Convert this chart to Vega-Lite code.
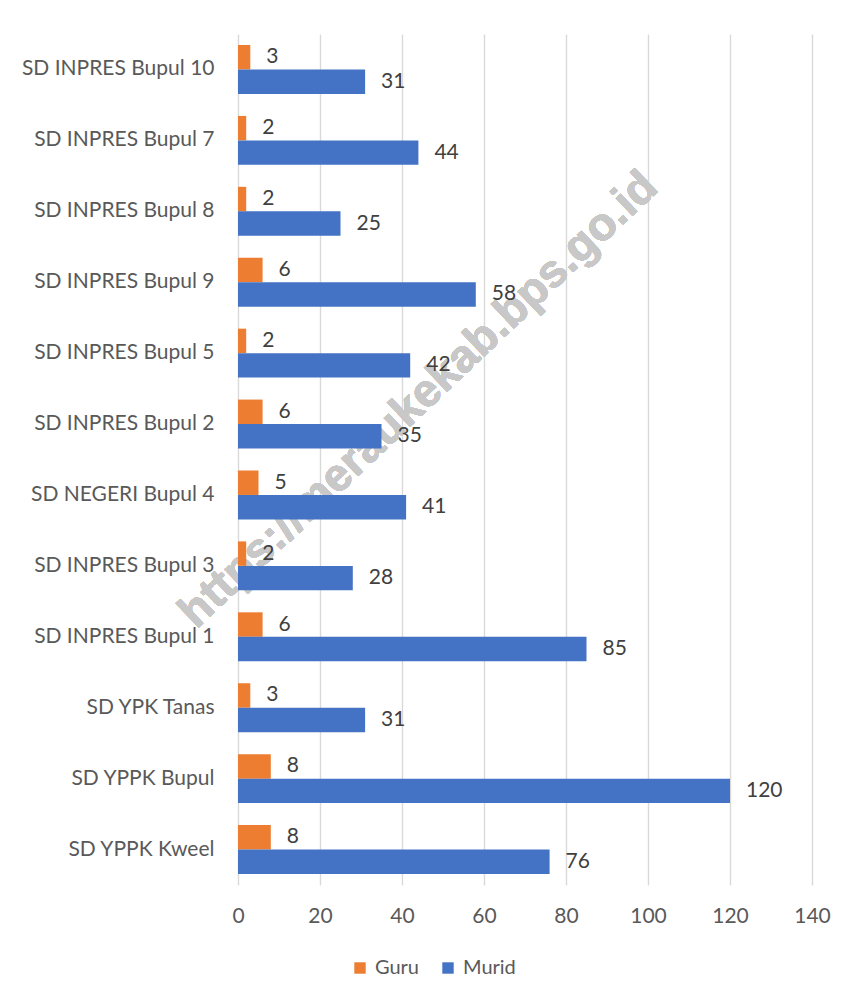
{
  "$schema": "https://vega.github.io/schema/vega-lite/v6.json",
  "autosize": "none",
  "width": 574,
  "height": 851,
  "padding": {"left": 238, "top": 34, "right": 47, "bottom": 120},
  "background": "white",
  "config": {
    "font": "Lato",
    "view": {"stroke": null}
  },
  "data": {
    "values": [
      {"school": "SD INPRES Bupul 10", "series": "Guru", "value": 3},
      {"school": "SD INPRES Bupul 10", "series": "Murid", "value": 31},
      {"school": "SD INPRES Bupul 7", "series": "Guru", "value": 2},
      {"school": "SD INPRES Bupul 7", "series": "Murid", "value": 44},
      {"school": "SD INPRES Bupul 8", "series": "Guru", "value": 2},
      {"school": "SD INPRES Bupul 8", "series": "Murid", "value": 25},
      {"school": "SD INPRES Bupul 9", "series": "Guru", "value": 6},
      {"school": "SD INPRES Bupul 9", "series": "Murid", "value": 58},
      {"school": "SD INPRES Bupul 5", "series": "Guru", "value": 2},
      {"school": "SD INPRES Bupul 5", "series": "Murid", "value": 42},
      {"school": "SD INPRES Bupul 2", "series": "Guru", "value": 6},
      {"school": "SD INPRES Bupul 2", "series": "Murid", "value": 35},
      {"school": "SD NEGERI Bupul 4", "series": "Guru", "value": 5},
      {"school": "SD NEGERI Bupul 4", "series": "Murid", "value": 41},
      {"school": "SD INPRES Bupul 3", "series": "Guru", "value": 2},
      {"school": "SD INPRES Bupul 3", "series": "Murid", "value": 28},
      {"school": "SD INPRES Bupul 1", "series": "Guru", "value": 6},
      {"school": "SD INPRES Bupul 1", "series": "Murid", "value": 85},
      {"school": "SD YPK Tanas", "series": "Guru", "value": 3},
      {"school": "SD YPK Tanas", "series": "Murid", "value": 31},
      {"school": "SD YPPK Bupul", "series": "Guru", "value": 8},
      {"school": "SD YPPK Bupul", "series": "Murid", "value": 120},
      {"school": "SD YPPK Kweel", "series": "Guru", "value": 8},
      {"school": "SD YPPK Kweel", "series": "Murid", "value": 76}
    ]
  },
  "encoding": {
    "y": {
      "field": "school",
      "type": "nominal",
      "sort": ["SD INPRES Bupul 10", "SD INPRES Bupul 7", "SD INPRES Bupul 8", "SD INPRES Bupul 9", "SD INPRES Bupul 5", "SD INPRES Bupul 2", "SD NEGERI Bupul 4", "SD INPRES Bupul 3", "SD INPRES Bupul 1", "SD YPK Tanas", "SD YPPK Bupul", "SD YPPK Kweel"],
      "scale": {"paddingInner": 0.31, "paddingOuter": 0.155},
      "axis": {
        "title": null,
        "ticks": false,
        "domain": false,
        "labelFontSize": 21,
        "labelColor": "#595959",
        "labelPadding": 24,
        "labelLimit": 0,
        "labelFont": "Lato"
      }
    },
    "x": {
      "field": "value",
      "type": "quantitative",
      "scale": {"domain": [0, 140], "nice": false},
      "axis": {
        "title": null,
        "values": [0, 20, 40, 60, 80, 100, 120, 140],
        "ticks": false,
        "domain": false,
        "grid": true,
        "gridColor": "#d9d9d9",
        "gridWidth": 1.4,
        "labelFontSize": 21,
        "labelColor": "#595959",
        "labelPadding": 20,
        "labelFlush": false,
        "labelFont": "Lato"
      }
    },
    "yOffset": {"field": "series", "type": "nominal", "sort": ["Guru", "Murid"], "scale": {"paddingInner": 0, "paddingOuter": 0}}
  },
  "layer": [
    {
      "mark": {
        "type": "text",
        "text": "https://meraukekab.bps.go.id",
        "font": "Liberation Sans",
        "fontWeight": "bold",
        "fontSize": 46,
        "angle": -43.5,
        "align": "center",
        "baseline": "middle",
        "color": "#c8c8c8",
        "opacity": 0.55
      },
      "encoding": {
        "x": {"datum": 44, "type": "quantitative"},
        "y": {"datum": "SD INPRES Bupul 2", "type": "nominal"},
        "yOffset": {"value": 0}
      }
    },
    {
      "mark": {"type": "bar"},
      "encoding": {
        "color": {
          "field": "series",
          "type": "nominal",
          "sort": ["Guru", "Murid"],
          "scale": {"domain": ["Guru", "Murid"], "range": ["#ED7D31", "#4472C4"]},
          "legend": {
            "title": null,
            "orient": "none",
            "direction": "horizontal",
            "legendX": 112,
            "legendY": 924,
            "symbolType": "square",
            "symbolSize": 130,
            "symbolStrokeWidth": 0,
            "labelFontSize": 20,
            "labelColor": "#595959",
            "labelFont": "Lato",
            "columnPadding": 18,
            "symbolOffset": 0,
            "labelOffset": 5
          }
        }
      }
    },
    {
      "mark": {
        "type": "text",
        "align": "left",
        "baseline": "middle",
        "dx": 16,
        "fontSize": 21,
        "color": "#404040",
        "font": "Lato"
      },
      "encoding": {
        "text": {"field": "value", "type": "quantitative"}
      }
    }
  ]
}
